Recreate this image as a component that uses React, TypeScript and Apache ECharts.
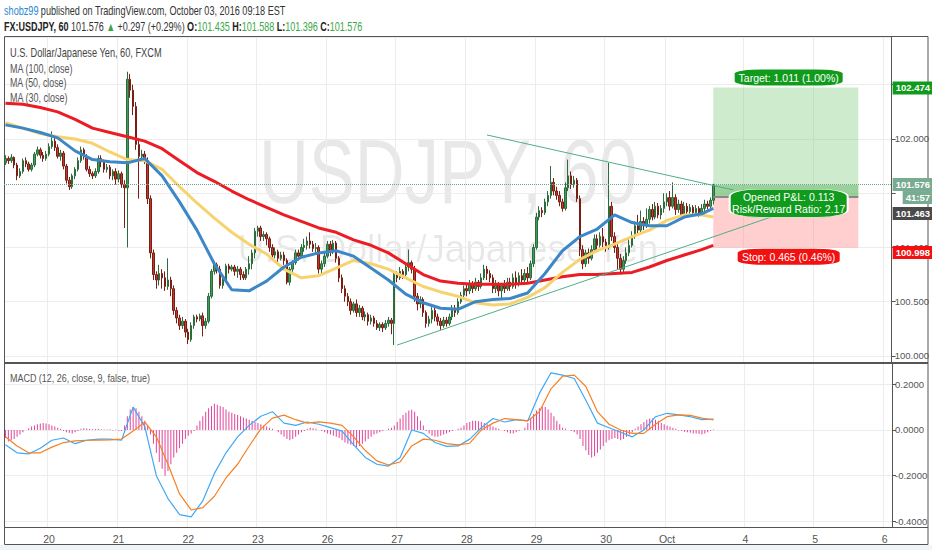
import React, { useEffect, useRef } from "react";
import * as echarts from "echarts";

const FONT = "'Liberation Sans', Arial, sans-serif";

// ---- time axis ----
const BAR_COUNT = 306; // hourly slots on the time scale (incl. future space)
const dayBars = [15, 39, 63, 87, 111, 135, 159, 183, 207, 228, 255, 279, 303];
const dayNames = ["20", "21", "22", "23", "26", "27", "28", "29", "30", "Oct", "4", "5", "6"];

// ---- candles: [open, close, low, high] ----
const candles: number[][] = [
  [101.78, 101.82, 101.76, 101.85], [101.82, 101.80, 101.77, 101.84], [101.80, 101.83, 101.78, 101.86],
  [101.83, 101.76, 101.73, 101.84], [101.76, 101.66, 101.62, 101.78], [101.66, 101.70, 101.64, 101.73],
  [101.70, 101.80, 101.68, 101.82], [101.80, 101.77, 101.74, 101.83], [101.77, 101.72, 101.70, 101.79],
  [101.72, 101.76, 101.70, 101.78], [101.76, 101.86, 101.74, 101.88], [101.86, 101.90, 101.84, 101.93],
  [101.90, 101.85, 101.82, 101.92], [101.85, 101.82, 101.79, 101.88], [101.82, 101.86, 101.80, 101.89],
  // 20
  [101.86, 101.93, 101.84, 101.96], [101.93, 101.98, 101.91, 102.07], [101.98, 101.92, 101.89, 102.01],
  [101.92, 101.84, 101.82, 101.95], [101.84, 101.87, 101.80, 101.90], [101.87, 101.75, 101.72, 101.89],
  [101.75, 101.62, 101.59, 101.77], [101.62, 101.56, 101.53, 101.65], [101.56, 101.66, 101.54, 101.68],
  [101.66, 101.72, 101.63, 101.74], [101.72, 101.80, 101.70, 101.83], [101.80, 101.90, 101.78, 101.93],
  [101.90, 101.84, 101.81, 101.92], [101.84, 101.72, 101.70, 101.86], [101.72, 101.68, 101.65, 101.75],
  [101.68, 101.66, 101.63, 101.70], [101.66, 101.70, 101.64, 101.73], [101.70, 101.82, 101.68, 101.85],
  [101.82, 101.79, 101.74, 101.85], [101.79, 101.72, 101.69, 101.81], [101.72, 101.74, 101.69, 101.77],
  [101.74, 101.66, 101.63, 101.76], [101.66, 101.70, 101.62, 101.72], [101.70, 101.63, 101.58, 101.73],
  // 21
  [101.63, 101.68, 101.60, 101.71], [101.68, 101.58, 101.55, 101.70], [101.58, 101.55, 101.18, 101.62],
  [101.55, 102.55, 101.00, 102.62], [102.55, 102.45, 102.38, 102.60], [102.45, 102.30, 102.22, 102.50],
  [102.30, 101.95, 101.90, 102.34], [101.95, 101.84, 101.45, 102.00], [101.84, 101.86, 101.80, 101.90],
  [101.86, 101.80, 101.77, 101.89], [101.80, 101.45, 101.40, 101.83], [101.45, 100.95, 100.90, 101.48],
  [100.95, 100.75, 100.70, 100.98], [100.75, 100.70, 100.62, 100.78], [100.70, 100.76, 100.65, 100.84],
  [100.76, 100.72, 100.62, 100.80], [100.72, 100.64, 100.60, 100.78], [100.64, 100.70, 100.61, 100.90],
  [100.70, 100.62, 100.55, 100.73], [100.62, 100.42, 100.38, 100.65], [100.42, 100.35, 100.30, 100.45],
  [100.35, 100.28, 100.24, 100.38], [100.28, 100.32, 100.25, 100.36], [100.32, 100.22, 100.17, 100.34],
  // 22
  [100.22, 100.15, 100.11, 100.25], [100.15, 100.28, 100.13, 100.31], [100.28, 100.36, 100.25, 100.38],
  [100.36, 100.34, 100.31, 100.38], [100.34, 100.37, 100.32, 100.39], [100.37, 100.28, 100.18, 100.40],
  [100.28, 100.32, 100.25, 100.35], [100.32, 100.55, 100.30, 100.58], [100.55, 100.78, 100.53, 100.80],
  [100.78, 100.84, 100.75, 100.87], [100.84, 100.80, 100.76, 100.86], [100.80, 100.65, 100.62, 100.83],
  [100.65, 100.70, 100.62, 100.74], [100.70, 100.83, 100.68, 100.85], [100.83, 100.80, 100.76, 100.85],
  [100.80, 100.82, 100.78, 100.84], [100.82, 100.78, 100.74, 100.84], [100.78, 100.80, 100.72, 100.83],
  [100.80, 100.75, 100.70, 100.82], [100.75, 100.72, 100.70, 100.78], [100.72, 100.80, 100.70, 100.82],
  [100.80, 100.85, 100.75, 100.92], [100.85, 100.95, 100.80, 100.98], [100.95, 101.15, 100.90, 101.18],
  // 23
  [101.15, 101.18, 101.10, 101.20], [101.18, 101.10, 101.06, 101.20], [101.10, 101.12, 101.06, 101.15],
  [101.12, 101.08, 101.02, 101.14], [101.08, 101.00, 100.96, 101.10], [101.00, 100.93, 100.88, 101.03],
  [100.93, 100.96, 100.90, 101.00], [100.96, 100.90, 100.86, 100.98], [100.90, 100.93, 100.88, 100.96],
  [100.93, 100.88, 100.84, 100.96], [100.88, 100.68, 100.66, 100.90], [100.68, 100.80, 100.65, 100.82],
  [100.80, 100.86, 100.76, 100.88], [100.86, 100.95, 100.84, 100.98], [100.95, 100.92, 100.88, 100.98],
  [100.92, 101.00, 100.90, 101.03], [101.00, 101.02, 100.96, 101.08], [101.02, 101.06, 100.98, 101.10],
  [101.06, 101.03, 100.99, 101.14], [101.03, 100.99, 100.96, 101.06], [100.99, 101.00, 100.95, 101.04],
  [101.00, 100.80, 100.76, 101.02], [100.80, 100.85, 100.76, 100.88], [100.85, 100.92, 100.82, 100.95],
  // 26
  [100.92, 101.03, 100.90, 101.06], [101.03, 100.96, 100.92, 101.06], [100.96, 101.04, 100.94, 101.07],
  [101.04, 100.90, 100.86, 101.06], [100.90, 100.72, 100.68, 100.92], [100.72, 100.62, 100.58, 100.75],
  [100.62, 100.55, 100.50, 100.65], [100.55, 100.50, 100.46, 100.58], [100.50, 100.42, 100.38, 100.53],
  [100.42, 100.48, 100.40, 100.50], [100.48, 100.40, 100.36, 100.52], [100.40, 100.44, 100.36, 100.47],
  [100.44, 100.36, 100.33, 100.46], [100.36, 100.38, 100.32, 100.41], [100.38, 100.32, 100.28, 100.40],
  [100.32, 100.35, 100.29, 100.38], [100.35, 100.30, 100.27, 100.37], [100.30, 100.26, 100.24, 100.33],
  [100.26, 100.29, 100.23, 100.31], [100.29, 100.26, 100.22, 100.31], [100.26, 100.30, 100.24, 100.33],
  [100.30, 100.33, 100.27, 100.36], [100.33, 100.30, 100.20, 100.35], [100.30, 100.75, 100.10, 100.78],
  // 27
  [100.75, 100.72, 100.68, 100.78], [100.72, 100.78, 100.70, 100.82], [100.78, 100.75, 100.71, 100.80],
  [100.75, 100.82, 100.73, 100.85], [100.82, 100.86, 100.78, 100.98], [100.86, 100.80, 100.76, 100.88],
  [100.80, 100.55, 100.50, 100.83], [100.55, 100.48, 100.42, 100.58], [100.48, 100.52, 100.44, 100.55],
  [100.52, 100.40, 100.36, 100.54], [100.40, 100.30, 100.26, 100.42], [100.30, 100.34, 100.27, 100.37],
  [100.34, 100.42, 100.30, 100.45], [100.42, 100.36, 100.32, 100.45], [100.36, 100.32, 100.28, 100.39],
  [100.32, 100.28, 100.24, 100.35], [100.28, 100.33, 100.26, 100.36], [100.33, 100.30, 100.27, 100.36],
  [100.30, 100.36, 100.28, 100.39], [100.36, 100.44, 100.33, 100.47], [100.44, 100.40, 100.36, 100.47],
  [100.40, 100.50, 100.38, 100.53], [100.50, 100.56, 100.48, 100.59], [100.56, 100.62, 100.54, 100.65],
  // 28
  [100.62, 100.60, 100.55, 100.66], [100.60, 100.66, 100.57, 100.70], [100.66, 100.62, 100.58, 100.69],
  [100.62, 100.68, 100.60, 100.72], [100.68, 100.64, 100.60, 100.70], [100.64, 100.72, 100.62, 100.76],
  [100.72, 100.80, 100.70, 100.84], [100.80, 100.76, 100.70, 100.83], [100.76, 100.72, 100.68, 100.79],
  [100.72, 100.62, 100.58, 100.75], [100.62, 100.66, 100.58, 100.70], [100.66, 100.60, 100.55, 100.68],
  [100.60, 100.65, 100.52, 100.67], [100.65, 100.62, 100.58, 100.70], [100.62, 100.68, 100.60, 100.72],
  [100.68, 100.64, 100.60, 100.72], [100.64, 100.72, 100.62, 100.76], [100.72, 100.66, 100.62, 100.78],
  [100.66, 100.74, 100.64, 100.77], [100.74, 100.70, 100.66, 100.80], [100.70, 100.76, 100.68, 100.80],
  [100.76, 100.72, 100.68, 100.82], [100.72, 100.85, 100.70, 100.88], [100.85, 101.00, 100.82, 101.03],
  // 29
  [101.00, 101.28, 100.98, 101.32], [101.28, 101.34, 101.25, 101.38], [101.34, 101.32, 101.28, 101.37],
  [101.32, 101.42, 101.30, 101.45], [101.42, 101.48, 101.38, 101.52], [101.48, 101.60, 101.45, 101.75],
  [101.60, 101.52, 101.48, 101.64], [101.52, 101.48, 101.44, 101.56], [101.48, 101.42, 101.38, 101.52],
  [101.42, 101.36, 101.33, 101.45], [101.36, 101.55, 101.34, 101.60], [101.55, 101.66, 101.52, 101.81],
  [101.66, 101.58, 101.54, 101.70], [101.58, 101.62, 101.55, 101.66], [101.62, 101.45, 101.42, 101.64],
  [101.45, 100.98, 100.92, 101.48], [100.98, 100.85, 100.80, 101.02], [100.85, 100.95, 100.82, 100.98],
  [100.95, 100.90, 100.85, 100.99], [100.90, 100.98, 100.88, 101.02], [100.98, 101.08, 100.95, 101.12],
  [101.08, 101.02, 100.98, 101.12], [101.02, 101.10, 101.00, 101.14], [101.10, 101.05, 101.00, 101.18],
  // 30
  [101.05, 101.00, 100.96, 101.08], [101.00, 101.38, 100.98, 101.78], [101.38, 101.10, 101.06, 101.42],
  [101.10, 101.00, 100.95, 101.14], [101.00, 100.90, 100.80, 101.04], [100.90, 100.80, 100.75, 100.94],
  [100.80, 100.88, 100.76, 100.92], [100.88, 100.95, 100.85, 101.00], [100.95, 101.02, 100.92, 101.08],
  [101.02, 101.10, 101.00, 101.15], [101.10, 101.20, 101.08, 101.24], [101.20, 101.16, 101.12, 101.30],
  [101.16, 101.24, 101.14, 101.34], [101.24, 101.20, 101.16, 101.28], [101.20, 101.26, 101.18, 101.36],
  [101.26, 101.35, 101.22, 101.38], [101.35, 101.28, 101.25, 101.40], [101.28, 101.38, 101.26, 101.42],
  [101.38, 101.30, 101.27, 101.41], [101.30, 101.36, 101.26, 101.39], [101.36, 101.42, 101.32, 101.50],
  // Oct
  [101.42, 101.46, 101.38, 101.50], [101.46, 101.38, 101.34, 101.52], [101.38, 101.46, 101.36, 101.60],
  [101.46, 101.35, 101.30, 101.49], [101.35, 101.40, 101.32, 101.44], [101.40, 101.30, 101.27, 101.43],
  [101.30, 101.38, 101.28, 101.42], [101.38, 101.33, 101.28, 101.41], [101.33, 101.37, 101.30, 101.40],
  [101.37, 101.32, 101.28, 101.39], [101.32, 101.36, 101.30, 101.39], [101.36, 101.31, 101.28, 101.38],
  [101.31, 101.36, 101.30, 101.40], [101.36, 101.40, 101.33, 101.44], [101.40, 101.38, 101.35, 101.43],
  [101.38, 101.435, 101.36, 101.46], [101.435, 101.576, 101.396, 101.588],
];

// ---- moving averages, read every 6 bars (+ last bar) ----
const maBars = [0, 6, 12, 18, 24, 30, 36, 42, 48, 54, 60, 66, 72, 78, 84, 90, 96, 102, 108, 114, 120,
  126, 132, 138, 144, 150, 156, 162, 168, 174, 180, 186, 192, 198, 204, 210, 216, 222, 228, 234, 240, 244];
const ma100 = [102.33, 102.32, 102.29, 102.25, 102.18, 102.10, 102.06, 102.02, 101.98, 101.91, 101.80,
  101.69, 101.61, 101.52, 101.44, 101.37, 101.30, 101.24, 101.18, 101.14, 101.07, 101.02, 100.95, 100.85,
  100.75, 100.69, 100.67, 100.66, 100.66, 100.66, 100.67, 100.70, 100.73, 100.75, 100.75, 100.76, 100.77,
  100.82, 100.88, 100.93, 100.98, 101.02];
const ma50 = [102.15, 102.10, 102.05, 102.02, 102.00, 101.96, 101.88, 101.81, 101.80, 101.72, 101.56,
  101.41, 101.27, 101.14, 101.03, 100.94, 100.80, 100.72, 100.74, 100.81, 100.88, 100.85, 100.80, 100.72,
  100.64, 100.59, 100.55, 100.49, 100.47, 100.48, 100.54, 100.63, 100.77, 100.89, 100.97, 101.03, 101.10,
  101.16, 101.25, 101.30, 101.30, 101.28];
const ma30 = [102.13, 102.10, 102.06, 102.01, 101.89, 101.81, 101.79, 101.78, 101.82, 101.66, 101.42,
  101.16, 100.85, 100.61, 100.60, 100.69, 100.82, 100.91, 100.95, 100.97, 100.92, 100.81, 100.70, 100.57,
  100.49, 100.44, 100.43, 100.50, 100.52, 100.53, 100.58, 100.76, 100.97, 101.10, 101.17, 101.30, 101.23,
  101.20, 101.20, 101.28, 101.31, 101.36];

// ---- MACD (12, 26, 9), lines read every 4 bars ----
const MACD_STEP = 4;
const macdLine = [-0.065, -0.10, -0.105, -0.08, -0.045, -0.035, -0.06, -0.045, -0.04, -0.04, -0.045, 0.10,
  0.015, -0.20, -0.30, -0.37, -0.38, -0.31, -0.19, -0.10, -0.03, 0.02, 0.06, 0.08, 0.03, 0.02, 0.035, 0.025,
  0.01, -0.005, -0.065, -0.12, -0.15, -0.158, -0.12, 0.0, -0.015, -0.055, -0.072, -0.07, -0.04, 0.01, 0.05,
  0.035, 0.045, 0.04, 0.16, 0.25, 0.24, 0.225, 0.13, 0.03, 0.01, -0.01, -0.03, 0.0, 0.058, 0.073, 0.066,
  0.058, 0.045, 0.048];
const signalLine = [-0.03, -0.07, -0.10, -0.10, -0.075, -0.055, -0.048, -0.045, -0.044, -0.043, -0.04,
  -0.005, 0.035, -0.03, -0.15, -0.28, -0.35, -0.34, -0.29, -0.21, -0.15, -0.07, 0.005, 0.052, 0.065, 0.045,
  0.03, 0.035, 0.03, 0.02, -0.03, -0.09, -0.135, -0.153, -0.14, -0.07, -0.04, -0.045, -0.06, -0.065, -0.058,
  0.0, 0.03, 0.05, 0.045, 0.04, 0.08, 0.18, 0.235, 0.24, 0.19, 0.08, 0.025, 0.0, -0.015, -0.015, 0.025,
  0.058, 0.066, 0.064, 0.052, 0.044];
const histogram = [
  -0.035, -0.05, -0.045, -0.04, -0.03, -0.02, -0.01,
  0.0, 0.008, 0.015, 0.02, 0.025, 0.028, 0.03, 0.028, 0.025, 0.02, 0.015, 0.01, 0.005,
  -0.005, -0.01, -0.012, -0.015, -0.01, -0.005,
  0.005, 0.008, 0.006, 0.004, 0.003, 0.004, 0.005, 0.003, 0.002,
  0.002, 0.003, -0.002, 0.002, -0.003, -0.005,
  0.02, 0.06, 0.09, 0.1, 0.095, 0.08, 0.06, 0.04, 0.02,
  -0.02, -0.06, -0.1, -0.14, -0.17, -0.2, -0.18, -0.15, -0.12, -0.1, -0.08, -0.06, -0.04, -0.025,
  -0.015, -0.005,
  0.02, 0.04, 0.06, 0.08, 0.095, 0.105, 0.115, 0.11, 0.105, 0.1, 0.09, 0.08, 0.075, 0.07, 0.065, 0.06, 0.055, 0.05,
  0.045, 0.04, 0.035, 0.03, 0.025, 0.02, 0.015, 0.01, 0.005, 0.0, -0.01, -0.02, -0.03,
  -0.04, -0.045, -0.04, -0.03, -0.02, -0.01, -0.005,
  0.005, 0.01, 0.008, 0.005, 0.0, -0.005, -0.01, -0.015,
  -0.02, -0.025, -0.03, -0.035, -0.045, -0.055, -0.06, -0.065, -0.07, -0.075, -0.07, -0.06, -0.05,
  -0.04, -0.03, -0.02, -0.015, -0.01, -0.005, 0.0, 0.005, 0.01,
  0.02, 0.035, 0.05, 0.065, 0.075, 0.085, 0.088, 0.08, 0.06, 0.04, 0.02,
  -0.005, -0.015, -0.025, -0.03, -0.03, -0.025, -0.02, -0.015, -0.01, -0.005, 0.0,
  0.005, 0.01, 0.02, 0.03, 0.035, 0.04, 0.04, 0.038, 0.035, 0.03, 0.025, 0.02, 0.015, 0.01, 0.005, 0.0,
  -0.005, -0.01, -0.015, -0.015, -0.01, -0.005, 0.0,
  0.01, 0.03, 0.05, 0.07, 0.085, 0.095, 0.1, 0.1, 0.09, 0.075, 0.06, 0.04, 0.025, 0.01, 0.005,
  0.0, -0.005, -0.01, -0.02,
  -0.04, -0.07, -0.09, -0.11, -0.12, -0.115, -0.1, -0.085, -0.07, -0.055, -0.045, -0.04, -0.035,
  -0.04, -0.045, -0.04, -0.03, -0.02, -0.01,
  0.005, 0.015, 0.025, 0.035, 0.045, 0.05, 0.05, 0.045, 0.04, 0.03, 0.025, 0.02, 0.015, 0.01, 0.005,
  -0.002, -0.005, -0.008, -0.01, -0.012, -0.015, -0.015, -0.018, -0.02, -0.015, -0.01, -0.005, 0.002,
];

// ---- drawing tools (bar index, price) ----
const upperTrend = [[166, 102.037], [251, 101.53]];
const lowerTrend = [[135, 100.10], [270, 101.336]];
const toolStartBar = 244;
const toolEndBar = 294;
const toolLabelBar = 270;
const entryPrice = 101.463;
const targetPrice = 102.474;
const stopPrice = 100.998;
const lastPrice = 101.576;

const GREEN = "#109b1c";
const RED = "#f21010";

// text width helper, used to condense texts to the narrow face of the original
const measure = (text: string, font: string) => {
  const ctx = document.createElement("canvas").getContext("2d");
  if (!ctx) return text.length * 6;
  ctx.font = font;
  return ctx.measureText(text).width;
};

export default function App() {
  const ref = useRef<HTMLDivElement>(null);
  useEffect(() => {
    document.body.style.margin = "0";
    const chart = echarts.init(ref.current!, null, { renderer: "svg" });
    const cats = Array.from({ length: BAR_COUNT }, (_, i) => String(i));
    const isDay = (i: number) => dayBars.indexOf(i) >= 0;
    const maSeries = (vals: number[]) => vals.map((v, k) => [maBars[k], v]);
    const macdSeries = (vals: number[]) => vals.map((v, k) => [k * MACD_STEP, v]);
    const hidden = [101.5, 102.5];
    const priceFmt = (v: number) => (hidden.some((h) => Math.abs(h - v) < 1e-6) ? "" : v.toFixed(3));
    const axisLbl = { color: "#555", fontSize: 9.5, fontFamily: FONT };
    const clear = { color: "rgba(0,0,0,0)", width: 0 };
    const endLabel = (text: string, bg: string, offset: number[] = [0, 0]) => ({
      show: true, position: "end", distance: 1, formatter: text, offset,
      backgroundColor: bg, color: "#fff", padding: [2, 2, 1, 3], fontSize: 9.5, fontFamily: FONT,
      fontWeight: "bold",
    });

    // condensed text element
    const ctext = (text: string, x: number, y: number, size: number, width: number, fill: string,
      extra: any = {}) => {
      const weight = extra.fontWeight || "normal";
      const sx = width / measure(text, `${weight} ${size}px ${FONT}`);
      return {
        type: "text", x, y, z: 100, scaleX: sx, silent: true,
        style: { text, fill, fontSize: size, fontFamily: FONT, fontWeight: weight, textVerticalAlign: "middle", ...extra },
      };
    };
    const row1Plain = "shobz99 published on TradingView.com, October 03, 2016 09:18 EST";
    const row2Plain = "FX:USDJPY, 60 101.576 ▲ +0.297 (+0.29%) O:101.435 H:101.588 L:101.396 C:101.576";
    const row1Scale = 282 / measure(row1Plain, `13px ${FONT}`);
    const row2Scale = 359 / measure(row2Plain, `bold 12.5px ${FONT}`);
    const wm1 = "USDJPY, 60";
    const wm2 = "U.S. Dollar/Japanese Yen";
    const wm1Scale = 378 / measure(wm1, "90px 'Liberation Sans', Arial, sans-serif");
    const wm2Scale = 421 / measure(wm2, "38px 'Liberation Sans', Arial, sans-serif");

    const option: any = {
      animation: false,
      backgroundColor: "#ffffff",
      textStyle: { fontFamily: FONT },
      grid: [
        { left: 4, top: 37, width: 888, height: 326 },
        { left: 4, top: 363, width: 888, height: 164 },
      ],
      xAxis: [
        {
          type: "category", gridIndex: 0, data: cats, boundaryGap: true,
          axisLine: { show: false }, axisTick: { show: false }, axisLabel: { show: false },
          splitLine: { show: true, interval: (i: number) => isDay(i), lineStyle: { color: "#ececec" } },
        },
        {
          type: "category", gridIndex: 1, data: cats, boundaryGap: true,
          axisLine: { show: false }, axisTick: { show: false },
          axisLabel: {
            color: "#555", fontSize: 10.5, fontFamily: FONT, margin: 6, interval: (i: number) => isDay(i),
            formatter: (_v: string, i: number) => dayNames[dayBars.indexOf(i)] ?? "",
          },
          splitLine: { show: true, interval: (i: number) => isDay(i), lineStyle: { color: "#ececec" } },
        },
      ],
      yAxis: [
        {
          type: "value", gridIndex: 0, position: "right", min: 99.935, max: 102.94, splitNumber: 6,
          axisLine: { show: true, lineStyle: { color: "#555" } },
          axisTick: { show: true, length: 4, lineStyle: { color: "#555" } },
          axisLabel: { ...axisLbl, margin: 3, showMinLabel: false, showMaxLabel: false, formatter: priceFmt },
          splitLine: { lineStyle: { color: "#ececec" } },
        },
        {
          type: "value", gridIndex: 1, position: "right", min: -0.4245, max: 0.293, splitNumber: 4,
          axisLine: { show: true, lineStyle: { color: "#555" } },
          axisTick: { show: true, length: 4, lineStyle: { color: "#555" } },
          axisLabel: { ...axisLbl, margin: 3, showMinLabel: false, showMaxLabel: false, formatter: (v: number) => v.toFixed(4) },
          splitLine: { lineStyle: { color: "#ececec" } },
        },
      ],
      series: [
        {
          type: "candlestick", xAxisIndex: 0, yAxisIndex: 0, barWidth: 2,
          data: candles,
          itemStyle: {
            color: "#3f9b59", color0: "#c0392b", borderColor: "#2b6b3c", borderColor0: "#7a1e15", borderWidth: 1,
          },
          markArea: {
            silent: true,
            data: [
              [{ coord: [toolStartBar, targetPrice], itemStyle: { color: "rgba(118,200,118,0.36)" } }, { coord: [toolEndBar, entryPrice] }],
              [{ coord: [toolStartBar, lastPrice], itemStyle: { color: "rgba(90,175,90,0.45)" } }, { coord: [toolEndBar, entryPrice] }],
              [{ coord: [toolStartBar, entryPrice], itemStyle: { color: "rgba(255,120,120,0.36)" } }, { coord: [toolEndBar, stopPrice] }],
            ],
          },
          markLine: {
            silent: true, symbol: ["none", "none"],
            data: [
              [{ coord: [toolStartBar, entryPrice], lineStyle: { color: "#888", width: 2, type: "solid" }, label: { show: false } },
               { coord: [toolEndBar, entryPrice] }],
              { yAxis: lastPrice, lineStyle: { color: "#6aa58c", width: 1, type: "dotted" }, label: endLabel("101.576", "#78ab92") },
              { yAxis: lastPrice, lineStyle: clear, label: endLabel("41:57", "#78ab92", [10, 13]) },
              { yAxis: targetPrice, lineStyle: clear, label: endLabel("102.474", GREEN) },
              { yAxis: entryPrice, lineStyle: clear, label: endLabel("101.463", "#4a4a4a", [0, 16]) },
              { yAxis: stopPrice, lineStyle: clear, label: endLabel("100.998", RED, [0, 5]) },
            ],
          },
          markPoint: {
            silent: true, symbol: "roundRect",
            label: { show: true, position: "inside", color: "#fff", fontSize: 10.5, fontFamily: FONT, lineHeight: 12 },
            data: [
              { coord: [toolLabelBar, targetPrice], symbolSize: [108, 16], symbolOffset: [0, -10], itemStyle: { color: GREEN },
                label: { formatter: "Target: 1.011 (1.00%)" } },
              { coord: [toolLabelBar, entryPrice], symbolSize: [118, 28], symbolOffset: [0, 6],
                itemStyle: { color: GREEN, borderColor: "#fff", borderWidth: 1 },
                label: { formatter: "Opened P&L: 0.113\nRisk/Reward Ratio: 2.17" } },
              { coord: [toolLabelBar, stopPrice], symbolSize: [102, 16], symbolOffset: [0, 9], itemStyle: { color: RED },
                label: { formatter: "Stop: 0.465 (0.46%)" } },
            ],
          },
        },
        { type: "line", xAxisIndex: 0, yAxisIndex: 0, data: maSeries(ma100), showSymbol: false, symbol: "none",
          lineStyle: { color: "#ec1c24", width: 3 }, z: 3 },
        { type: "line", xAxisIndex: 0, yAxisIndex: 0, data: maSeries(ma50), showSymbol: false, symbol: "none",
          lineStyle: { color: "#f7d36f", width: 3 }, z: 3 },
        { type: "line", xAxisIndex: 0, yAxisIndex: 0, data: maSeries(ma30), showSymbol: false, symbol: "none",
          lineStyle: { color: "#3b87c8", width: 3 }, z: 3 },
        { type: "line", xAxisIndex: 0, yAxisIndex: 0, data: upperTrend, showSymbol: false, symbol: "none",
          lineStyle: { color: "#4fae88", width: 1 }, z: 4 },
        { type: "line", xAxisIndex: 0, yAxisIndex: 0, data: lowerTrend, showSymbol: false, symbol: "none",
          lineStyle: { color: "#4fae88", width: 1 }, z: 4 },
        { type: "bar", xAxisIndex: 1, yAxisIndex: 1, data: histogram, barWidth: 1,
          itemStyle: { color: "#e0449a" } },
        { type: "line", xAxisIndex: 1, yAxisIndex: 1, data: macdSeries(macdLine), showSymbol: false, symbol: "none",
          lineStyle: { color: "#3fa9f5", width: 1.2 }, z: 3 },
        { type: "line", xAxisIndex: 1, yAxisIndex: 1, data: macdSeries(signalLine), showSymbol: false, symbol: "none",
          lineStyle: { color: "#f58025", width: 1.2 }, z: 3 },
      ],
      graphic: [
        // watermark
        { type: "text", x: 448, y: 172, z: -1, silent: true, scaleX: wm1Scale,
          style: { text: wm1, fill: "rgba(0,0,0,0.09)", font: "90px 'Liberation Sans', Arial, sans-serif", textAlign: "center", textVerticalAlign: "middle" } },
        { type: "text", x: 448, y: 249, z: -1, silent: true, scaleX: wm2Scale,
          style: { text: wm2, fill: "rgba(0,0,0,0.09)", font: "38px 'Liberation Sans', Arial, sans-serif", textAlign: "center", textVerticalAlign: "middle" } },
        // header
        { type: "text", x: 4, y: 10, z: 100, scaleX: row1Scale, silent: true,
          style: {
            text: "{u|shobz99} {t|published on TradingView.com, October 03, 2016 09:18 EST}",
            textVerticalAlign: "middle",
            rich: {
              u: { fill: "#2a86d2", fontSize: 13, fontFamily: FONT },
              t: { fill: "#333", fontSize: 13, fontFamily: FONT },
            },
          } },
        { type: "text", x: 4, y: 26, z: 100, scaleX: row2Scale, silent: true,
          style: {
            text: "{b|FX:USDJPY, 60} {n|101.576} {g|▲} {n|+0.297 (+0.29%)} {b|O:}{g|101.435} {b|H:}{g|101.588} {b|L:}{g|101.396} {b|C:}{g|101.576}",
            textVerticalAlign: "middle",
            rich: {
              b: { fill: "#222", fontSize: 12.5, fontWeight: "bold", fontFamily: FONT },
              n: { fill: "#333", fontSize: 12.5, fontFamily: FONT },
              g: { fill: "#3aa647", fontSize: 12.5, fontFamily: FONT },
            },
          } },
        // pane legends
        ctext("U.S. Dollar/Japanese Yen, 60, FXCM", 10, 53, 12, 152, "#444"),
        ctext("MA (100, close)", 10, 68, 12, 63, "#555"),
        ctext("MA (50, close)", 10, 82, 12, 57, "#555"),
        ctext("MA (30, close)", 10, 97, 12, 58, "#555"),
        ctext("MACD (12, 26, close, 9, false, true)", 10, 378, 11.5, 140, "#555"),
        // frame
        { type: "rect", z: 1, silent: true, shape: { x: 4.5, y: 36.5, width: 923.5, height: 508 },
          style: { fill: "none", stroke: "#555", lineWidth: 1 } },
        { type: "line", z: 100, silent: true, shape: { x1: 4, y1: 363, x2: 928, y2: 363 },
          style: { stroke: "#555", lineWidth: 2 } },
        { type: "line", z: 100, silent: true, shape: { x1: 4, y1: 527.5, x2: 928, y2: 527.5 },
          style: { stroke: "#555", lineWidth: 1 } },
        { type: "rect", z: 100, silent: true, shape: { x: 0, y: 545, width: 932, height: 5 },
          style: { fill: "#f0f3fa" } },
      ],
    };
    chart.setOption(option);
    return () => chart.dispose();
  }, []);
  return <div ref={ref} style={{ width: 932, height: 550, background: "#fff" }} />;
}
